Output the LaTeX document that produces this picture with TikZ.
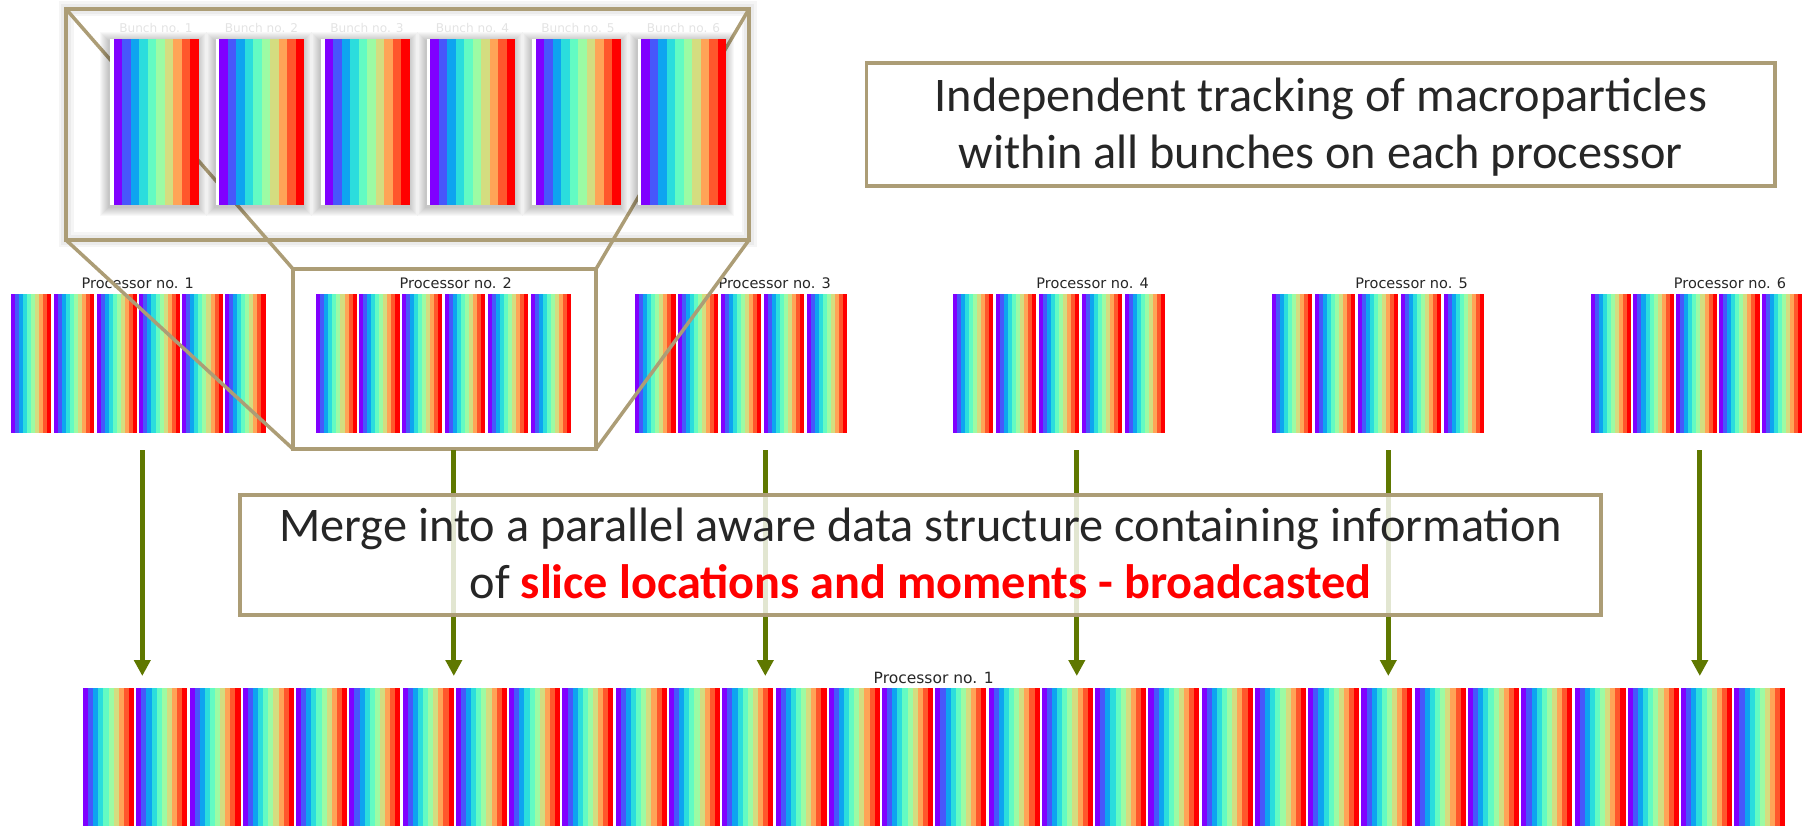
\documentclass[tikz,border=0pt]{standalone}
\usepackage{fontspec}
\setmainfont{Carlito}
\newfontfamily\dvs{DejaVu Sans}
\usetikzlibrary{arrows.meta}
\definecolor{rb0}{RGB}{128,0,255}
\definecolor{rb1}{RGB}{71,87,251}
\definecolor{rb2}{RGB}{14,164,240}
\definecolor{rb3}{RGB}{43,221,221}
\definecolor{rb4}{RGB}{99,251,195}
\definecolor{rb5}{RGB}{156,251,164}
\definecolor{rb6}{RGB}{212,221,128}
\definecolor{rb7}{RGB}{255,164,87}
\definecolor{rb8}{RGB}{255,87,44}
\definecolor{rb9}{RGB}{255,0,0}
\definecolor{frameC}{RGB}{172,157,118}
\definecolor{arrC}{RGB}{95,120,0}
\definecolor{txtC}{RGB}{38,38,38}
\definecolor{redC}{RGB}{255,0,0}
% rainbow bunch: x, y, width, height
\newcommand\rbunch[4]{%
  \foreach \i in {0,...,9}{\fill[rb\i] ({#1+\i*(#3)/10},{#2}) rectangle ({#1+#3},{#2+#4});}}
\begin{document}
\begin{tikzpicture}[x=1pt,y=-1pt,
  zoomframe/.style={draw=frameC, line width=4.5pt, outer sep=0pt, inner sep=0pt,
    preaction={draw=black!4, line width=15pt},
    preaction={draw=black!8, line width=10pt}},
  procframe/.style={draw=frameC, line width=3.5pt, outer sep=0pt, inner sep=0pt},
  zoomline/.style={draw=frameC, line width=3.5pt},
  textbox/.style={draw=frameC, line width=3.75pt, fill=white, outer sep=0pt, inner sep=0pt},
  boxtext/.style={font=\fontsize{48.3}{56.6}\selectfont, text=txtC, anchor=base, inner sep=0pt},
  plabel/.style={font=\dvs\fontsize{14.5}{17}\selectfont, text=black!85, anchor=base, inner sep=0pt},
  blabel/.style={font=\dvs\fontsize{12.1}{14}\selectfont, text=black!11, anchor=base, inner sep=0pt},
  arr/.style={draw=arrC, line width=5pt, -{Triangle[length=16pt,width=16pt]}}
]
\useasboundingbox (0,0) rectangle (1808,826);

% processor rows
\foreach \sx/\n/\lx [count=\p] in {10.7/5/137.8, 316.3/5/455.8, 635.2/4/774.7, 953.1/4/1092.6, 1272.1/4/1411.6, 1590.5/4/1730}{
  \foreach \k in {0,...,\n}{\rbunch{\sx+\k*42.9}{294}{40.3}{138.5}}
  \node[plabel] (pl\p) at (\lx,289) {Processor no. \p};
}

% zoom box and processor 2 box
\node[zoomframe, minimum width=683pt, minimum height=231pt] (zb) at (407.5,124.5) {};
\node[procframe, minimum width=303pt, minimum height=180pt] (pb) at (444.5,359) {};
\draw[zoomline] (zb.north west) -- (pb.north west);
\draw[zoomline] (zb.north east) -- (pb.north east);
\draw[zoomline] (zb.south west) -- (pb.south west);
\draw[zoomline] (zb.south east) -- (pb.south east);

% bunches inside the zoom box
\foreach \k in {1,...,6}{
  \pgfmathsetmacro\bx{113.5+105.5*(\k-1)}
  \foreach \s in {9,8,7,6,5,4,3,2,1}{\fill[black,opacity=0.028] (\bx-4.3-\s,41-\s) rectangle (\bx+84+\s,207+\s);}
  \fill[white] (\bx-3.3,39) rectangle (\bx+85,204.7);
  \rbunch{\bx}{39}{85}{165.7}
  \node[blabel] (bl\k) at (\bx+42.5,33) {Bunch no. \k};
}

% top text box
\node[textbox, minimum width=908.5pt, minimum height=122.4pt] (tb) at (1320.75,124.5) {};
\node[boxtext] (tb1) at (1320.75,111.7) {Independent tracking of macroparticles};
\node[boxtext] (tb2) at (1320.75,168.3) {within all bunches on each processor};

% arrows
\foreach \k in {0,...,5}{
  \coordinate (as\k) at ({142.3+311.5*\k},450);
  \coordinate (ae\k) at ({142.3+311.5*\k},676);
  \draw[arr] (as\k) -- (ae\k);
}

% merge box
\node[textbox, fill opacity=0.82, minimum width=1361pt, minimum height=120pt] (mb) at (920.5,555) {};
\node[boxtext] (mb1) at (920.5,541.7) {Merge into a parallel aware data structure containing information};
\node[boxtext] (mb2) at (920.5,598) {of \textcolor{redC}{\bfseries slice locations and moments - broadcasted}};

% bottom bar
\foreach \k in {0,...,31}{\rbunch{83+\k*53.27}{688}{51}{138}}
\node[plabel, font=\dvs\fontsize{15.5}{18}\selectfont] (pall) at (933.7,683) {Processor no. 1};
\end{tikzpicture}
\end{document}
